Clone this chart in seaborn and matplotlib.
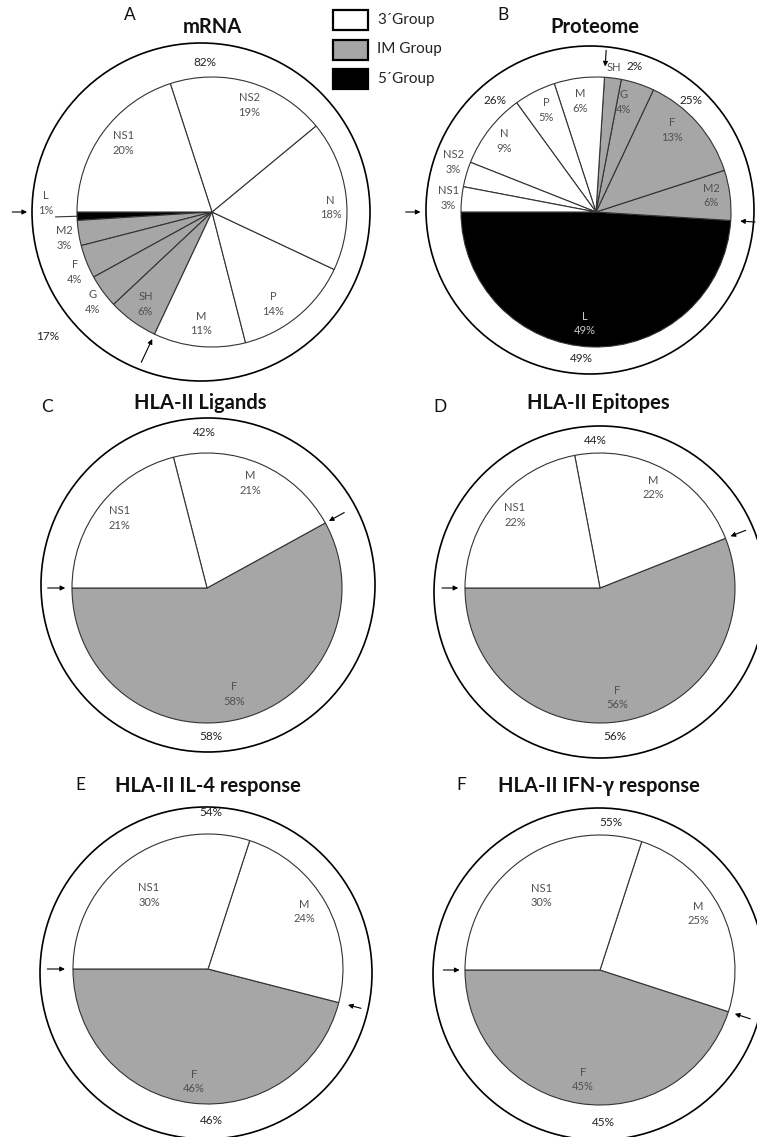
import numpy as np
import pandas as pd
import matplotlib
matplotlib.use('Agg')
import matplotlib.pyplot as plt
import seaborn as sns
from matplotlib.patches import Circle, Rectangle

sns.set_theme(style='white')
plt.rcParams['font.family'] = ['Lato', 'DejaVu Sans']

# ---- data (percent of total per protein) ----
gene_names = ['L', 'M2', 'F', 'G', 'SH', 'M', 'P', 'N', 'NS2', 'NS1']
gene_groups = ['5', 'IM', 'IM', 'IM', 'IM', '3', '3', '3', '3', '3']
mrna_pct = [1, 3, 4, 4, 6, 11, 14, 18, 19, 20]
proteome_pct = [49, 6, 13, 4, 2, 6, 5, 9, 3, 3]

hla_names = ['F', 'M', 'NS1']
hla_groups = ['IM', '3', '3']
ligands_pct = [58, 21, 21]
epitopes_pct = [56, 22, 22]
il4_pct = [46, 24, 30]
ifng_pct = [45, 25, 30]

group_labels = ['3\u00b4Group', 'IM Group', '5\u00b4Group']
group_keys = ['3', 'IM', '5']
group_colors = {'3': 'white', 'IM': '#a6a6a6', '5': 'black'}

R = 135  # pie radius in pixels

panels = [
    dict(letter='A', title='mRNA', names=gene_names, pct=mrna_pct, groups=gene_groups,
         center=(212, 212), ring=(201, 212, 169), letter_xy=(130, 15), title_xy=(212, 27),
         lab_r=[1.23, 1.11, 1.11, 1.11, 0.84, 0.83, 0.82, 0.88, 0.84, 0.83],
         lab_dt=[-5, 1, 2, 1, 0, 0, -6, -5, -3, -2],
         totals={'3': (205, 63), 'IM': (48, 337)},
         arrows=[(0, 1.48, 1.37), (5, 1.23, 1.04)], leader=[(0, 1.0, 1.16)],
         name_only=[], extra=[]),
    dict(letter='B', title='Proteome', names=gene_names, pct=proteome_pct, groups=gene_groups,
         center=(596, 212), ring=(590, 210, 164), letter_xy=(503, 15), title_xy=(595, 27),
         lab_r=[0.83, 0.86, 0.83, 0.84, 1.08, 0.83, 0.84, 0.86, 1.12, 1.10],
         lab_dt=[-4, 1, 5.6, 4, 0.3, 1, -1, 0, -3, 0],
         totals={'3': (495, 100), 'IM': (691, 100), '5': (581, 358)},
         arrows=[(0, 1.41, 1.30), (1, 1.18, 1.07), (5, 1.20, 1.08)], leader=[],
         name_only=[4], extra=[(4, (635, 67))]),
    dict(letter='C', title='HLA-II Ligands', names=hla_names, pct=ligands_pct, groups=hla_groups,
         center=(207, 588), ring=(208, 585, 167), letter_xy=(47, 407), title_xy=(200, 403),
         lab_r=[0.81, 0.84, 0.83], lab_dt=[0, 1, -1],
         totals={'3': (204, 433), 'IM': (211, 737)},
         arrows=[(0, 1.18, 1.05), (1, 1.16, 1.03)], leader=[], name_only=[], extra=[]),
    dict(letter='D', title='HLA-II Epitopes', names=hla_names, pct=epitopes_pct, groups=hla_groups,
         center=(600, 588), ring=(600, 592, 166), letter_xy=(440, 407), title_xy=(598, 403),
         lab_r=[0.82, 0.84, 0.83], lab_dt=[-2, 1, -1],
         totals={'3': (595, 441), 'IM': (615, 737)},
         arrows=[(0, 1.17, 1.05), (1, 1.16, 1.04)], leader=[], name_only=[], extra=[]),
    dict(letter='E', title='HLA-II IL-4 response', names=hla_names, pct=il4_pct, groups=hla_groups,
         center=(208, 969), ring=(206, 973, 166), letter_xy=(80, 785), title_xy=(208, 786),
         lab_r=[0.84, 0.83, 0.70], lab_dt=[0, 2, 2.6],
         totals={'3': (211, 813), 'IM': (211, 1120)},
         arrows=[(0, 1.19, 1.06), (1, 1.17, 1.07)], leader=[], name_only=[], extra=[]),
    dict(letter='F', title='HLA-II IFN-\u03b3 response', names=hla_names, pct=ifng_pct, groups=hla_groups,
         center=(600, 970), ring=(599, 974, 166), letter_xy=(461, 785), title_xy=(599, 786),
         lab_r=[0.82, 0.84, 0.70], lab_dt=[0, 3, 2],
         totals={'3': (611, 822), 'IM': (603, 1123)},
         arrows=[(0, 1.16, 1.04), (1, 1.17, 1.05)], leader=[], name_only=[], extra=[]),
]

fig = plt.figure(figsize=(7.57, 11.37), dpi=100)
ax = fig.add_axes([0, 0, 1, 1])


def polar(c, r, ang):
    # screen angle (deg, counter-clockwise) -> pixel coords (y down)
    a = np.deg2rad(ang)
    return c[0] + R * r * np.cos(a), c[1] - R * r * np.sin(a)


for p in panels:
    c = p['center']
    pct = np.array(p['pct'], dtype=float)
    cols = [group_colors[g] for g in p['groups']]
    # y axis is inverted, so counterclock=False runs counter-clockwise on screen
    ax.pie(pct, colors=cols, radius=R, center=c, startangle=180, counterclock=False,
           wedgeprops=dict(edgecolor='#333333', linewidth=0.8))
    ax.add_patch(Circle(p['ring'][:2], p['ring'][2], fill=False, ec='black', lw=1.2))

    cum = np.concatenate([[0], np.cumsum(pct)]) / pct.sum() * 360
    mids = 180 + (cum[:-1] + cum[1:]) / 2
    for i, name in enumerate(p['names']):
        x, y = polar(c, p['lab_r'][i], mids[i] + p['lab_dt'][i])
        txt = name if i in p['name_only'] else f"{name}\n{int(pct[i])}%"
        inside_black = p['groups'][i] == '5' and p['lab_r'][i] < 1
        ax.text(x, y, txt, ha='center', va='center', fontsize=8,
                color='#c8c8c8' if inside_black else '#505050', linespacing=1.4)
    for i, xy in p['extra']:
        ax.text(*xy, f"{int(pct[i])}%", ha='center', va='center', fontsize=8.5, color='#222222')
    for i, r0, r1 in p['leader']:
        x0, y0 = polar(c, r0, mids[i])
        x1, y1 = polar(c, r1, mids[i])
        ax.plot([x0, x1], [y0, y1], color='#333333', lw=0.8)

    # group totals around the ring
    tot = pd.Series(pct, index=p['groups']).groupby(level=0).sum()
    for g, xy in p['totals'].items():
        ax.text(*xy, f"{int(tot[g])}%", ha='center', va='center', fontsize=8.5, color='#222222')

    # arrows marking group boundaries
    for k, r0, r1 in p['arrows']:
        ang = 180 + cum[k]
        ax.annotate('', xy=polar(c, r1, ang), xytext=polar(c, r0, ang),
                    arrowprops=dict(arrowstyle='-|>', color='black', lw=0.8,
                                    mutation_scale=7, shrinkA=0, shrinkB=0))

    ax.text(*p['letter_xy'], p['letter'], ha='center', va='center', fontsize=12.5, color='#111111')
    ax.text(*p['title_xy'], p['title'], ha='center', va='center', fontsize=14.5,
            fontweight='bold', color='#111111')

# legend
for j, (lab, key) in enumerate(zip(group_labels, group_keys)):
    y0 = 10 + j * 29.5
    ax.add_patch(Rectangle((333, y0), 35, 20, facecolor=group_colors[key],
                           edgecolor='black', lw=1.6))
    ax.text(377, y0 + 10, lab, ha='left', va='center', fontsize=11, color='#222222')

ax.set_xlim(0, 757)
ax.set_ylim(1137, 0)
ax.set_aspect('equal')
ax.axis('off')

fig.savefig('out.png', dpi=100, facecolor='white')
